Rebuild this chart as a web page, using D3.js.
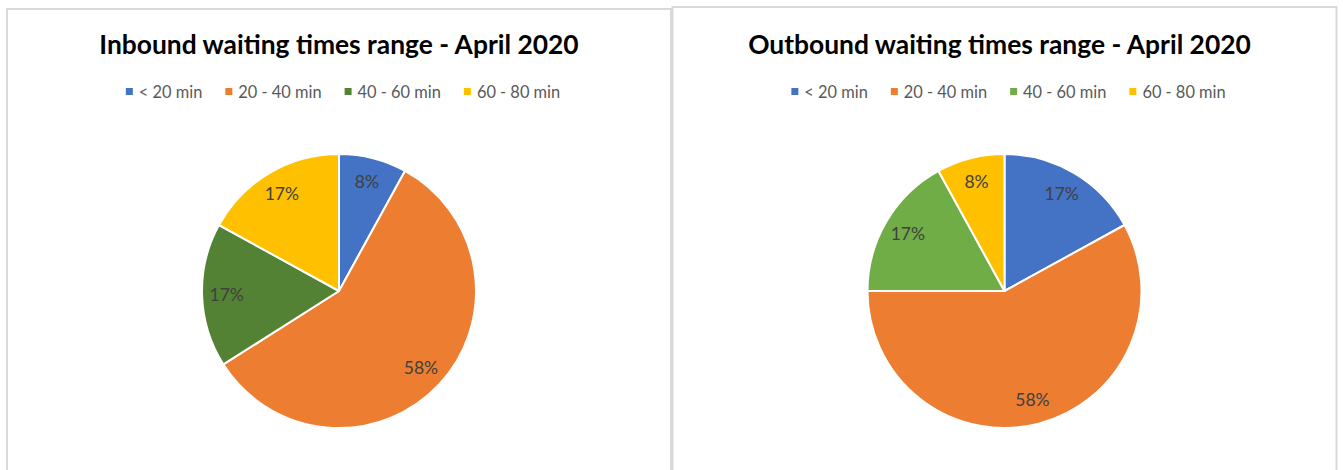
<!DOCTYPE html>
<html>
<head>
<meta charset="utf-8">
<script src="https://cdn.jsdelivr.net/npm/d3@7"></script>
<style>
  body { margin: 0; background: #fff; }
  svg { display: block; font-family: Lato, "Open Sans", sans-serif; }
</style>
</head>
<body>
<div id="chart"></div>
<script>
// categories shared by both charts
const categories = ["< 20 min", "20 - 40 min", "40 - 60 min", "60 - 80 min"];

// percentage shares
const inboundShares = [8, 58, 17, 17];
const outboundShares = [17, 58, 17, 8];

const inboundColors = ["#4472C4", "#ED7D31", "#548235", "#FFC000"];
const outboundColors = ["#4472C4", "#ED7D31", "#70AD47", "#FFC000"];

const panels = [
  { title: "Inbound waiting times range - April 2020", shares: inboundShares, colors: inboundColors,
    box: { x: 7, y: 9, w: 664 }, titleShift: 0 },
  { title: "Outbound waiting times range - April 2020", shares: outboundShares, colors: outboundColors,
    box: { x: 672.5, y: 7, w: 664 }, titleShift: -5 }
];

const width = 1343, height = 470;

const svg = d3.select("#chart").append("svg")
  .attr("width", width)
  .attr("height", height);

panels.forEach(p => drawPanel(p));

function drawPanel(p) {
  const g = svg.append("g");
  const cx = p.box.x + p.box.w / 2;

  // panel border (bottom runs off the picture)
  g.append("rect")
    .attr("x", p.box.x)
    .attr("y", p.box.y)
    .attr("width", p.box.w)
    .attr("height", height + 20)
    .attr("fill", "#fff")
    .attr("stroke", "#d9d9d9")
    .attr("stroke-width", 2);

  g.append("text")
    .attr("x", cx + p.titleShift)
    .attr("y", 54)
    .attr("text-anchor", "middle")
    .attr("font-size", 26.4)
    .attr("font-weight", "bold")
    .attr("fill", "#000")
    .text(p.title);

  // legend, centred under the title
  const legend = g.append("g");
  const items = legend.selectAll("g.item")
    .data(categories)
    .join("g")
    .attr("class", "item");

  items.append("rect")
    .attr("width", 7)
    .attr("height", 7)
    .attr("y", 88)
    .attr("fill", (d, i) => p.colors[i]);

  items.append("text")
    .attr("x", 13)
    .attr("y", 97.5)
    .attr("font-size", 16.4)
    .attr("fill", "#595959")
    .text(d => d);

  let offset = 0;
  items.each(function() {
    const w = d3.select(this).select("text").node().getComputedTextLength();
    d3.select(this).attr("transform", `translate(${offset},0)`);
    offset += 13 + w + 23;
  });
  const totalW = offset - 23;
  legend.attr("transform", `translate(${cx + 4 - totalW / 2},0)`);

  // pie
  const radius = 137;
  const cy = 291;
  const pie = d3.pie().sort(null).value(d => d);
  const arc = d3.arc().innerRadius(0).outerRadius(radius);
  const labelArc = d3.arc().innerRadius(radius * 0.82).outerRadius(radius * 0.82);

  const pieG = g.append("g").attr("transform", `translate(${cx},${cy})`);
  const arcs = pie(p.shares);

  pieG.selectAll("path")
    .data(arcs)
    .join("path")
    .attr("d", arc)
    .attr("fill", (d, i) => p.colors[i])
    .attr("stroke", "#fff")
    .attr("stroke-width", 2)
    .attr("stroke-linejoin", "round");

  pieG.selectAll("text")
    .data(arcs)
    .join("text")
    .attr("transform", d => `translate(${labelArc.centroid(d)})`)
    .attr("text-anchor", "middle")
    .attr("dy", "0.35em")
    .attr("font-size", 17.5)
    .attr("fill", "#404040")
    .text(d => d.data + "%");
}
</script>
</body>
</html>
